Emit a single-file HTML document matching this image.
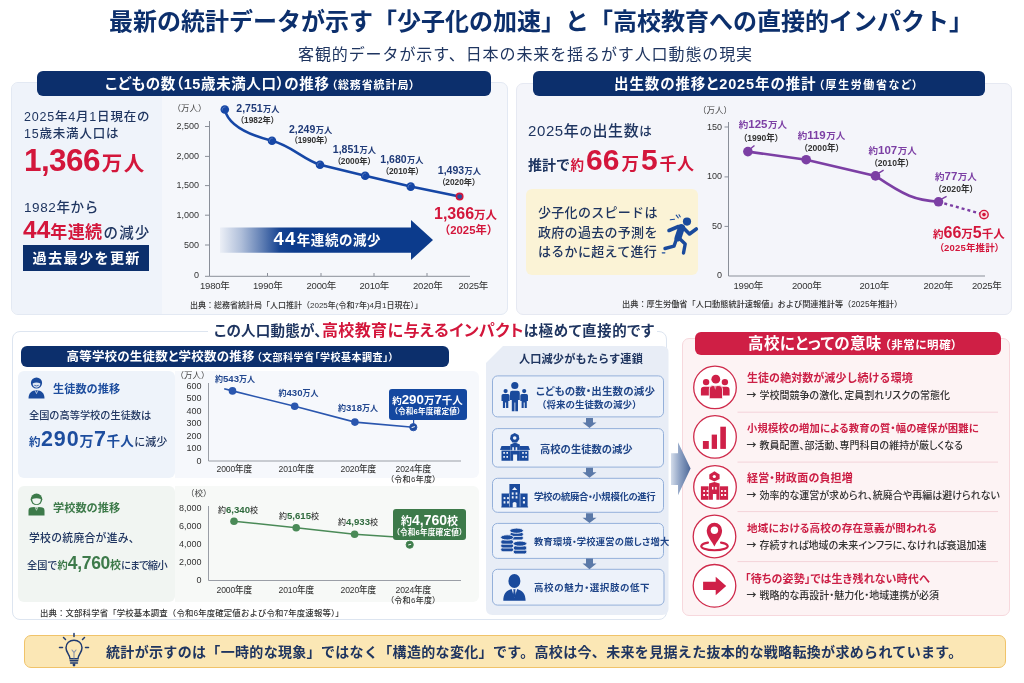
<!DOCTYPE html>
<html lang="ja">
<head>
<meta charset="utf-8">
<style>
*{margin:0;padding:0;box-sizing:border-box;}
html,body{width:1024px;height:683px;overflow:hidden;background:#fff;}
body{position:relative;font-family:"Liberation Sans","Noto Sans CJK JP",sans-serif;color:#1f3560;}
.a{position:absolute;white-space:nowrap;line-height:1;}
.b{font-weight:700;}
.hdr{position:absolute;background:#0c2f6c;border-radius:6px;color:#fff;font-weight:700;text-align:center;}
.card{position:absolute;border-radius:7px;}
.red{color:#d3163b;}
.navy{color:#1f3560;}
.blue{color:#1a4a9c;}
svg{position:absolute;overflow:visible;}
</style>
</head>
<body>

<!-- ===== TITLE ===== -->
<div class="a b" id="title" style="left:109px;top:10px;font-size:24px;color:#0c2f6c;letter-spacing:0px;">最新の統計データが示す「少子化の加速」と「高校教育への直接的インパクト」</div>
<div class="a" id="sub" style="left:298px;top:46.5px;font-size:16px;color:#1f3560;letter-spacing:0.9px;">客観的データが示す、日本の未来を揺るがす人口動態の現実</div>

<!-- ===== CARD 1 ===== -->
<div class="card" style="left:11px;top:82px;width:497px;height:233px;background:#f5f7fb;border:1px solid #e3e9f3;"></div>
<div class="card" style="left:12px;top:83px;width:150px;height:231px;background:#eff3fa;border-radius:6px 0 0 6px;"></div>
<div class="hdr" style="left:37px;top:71px;width:454px;height:25px;"></div>
<div class="a b" style="left:105px;top:77.2px;font-size:14.5px;color:#fff;font-feature-settings:'palt';letter-spacing:0.6px;">こどもの数（15歳未満人口）の推移<span style="font-size:11px;letter-spacing:0.9px;margin-left:2px;">（総務省統計局）</span></div>

<!-- card1 left text -->
<div class="a" style="left:24px;top:109px;font-size:12.5px;color:#1f3560;line-height:17px;letter-spacing:0.8px;font-weight:500;">2025年4月1日現在の<br>15歳未満人口は</div>
<div class="a b red" style="left:24px;top:145px;font-size:31.5px;letter-spacing:-0.6px;">1,366<span style="font-size:20.5px;letter-spacing:1.5px;margin-left:2px;">万人</span></div>
<div class="a" style="left:24px;top:201px;font-size:13.5px;color:#1f3560;letter-spacing:0.6px;font-weight:500;">1982年から</div>
<div class="a b" style="left:23px;top:218px;font-size:17px;color:#1f3560;"><span class="red"><span style="font-size:24.5px;">44</span><span style="letter-spacing:0.4px;">年連続</span></span><span style="font-size:14.5px;font-weight:500;letter-spacing:1.2px;margin-left:1px;">の減少</span></div>
<div class="a b" style="left:23px;top:245px;width:126px;height:26px;background:#0c2f6c;color:#fff;font-size:14.2px;text-align:center;line-height:27px;letter-spacing:1.3px;padding-left:1.3px;">過去最少を更新</div>

<!-- card1 chart -->
<svg style="left:0;top:0;" width="1024" height="683">
  <defs>
    <linearGradient id="arrg" x1="220" x2="433" y1="0" y2="0" gradientUnits="userSpaceOnUse">
      <stop offset="0" stop-color="#0c3b8c" stop-opacity="0.04"/>
      <stop offset="0.1" stop-color="#0c3b8c" stop-opacity="0.3"/>
      <stop offset="0.2" stop-color="#0c3b8c" stop-opacity="0.65"/>
      <stop offset="0.28" stop-color="#0c3b8c" stop-opacity="0.95"/>
      <stop offset="0.35" stop-color="#0c3b8c" stop-opacity="1"/>
      <stop offset="1" stop-color="#0c3b8c" stop-opacity="1"/>
    </linearGradient>
  </defs>
  <g stroke="#8a8f99" stroke-width="1" fill="none">
    <path d="M209.5 121 V276.3 H470 M205 276.3 H209.5"/>
    <path d="M205 126.5 H209.5 M205 156.4 H209.5 M205 185.6 H209.5 M205 215.2 H209.5 M205 245 H209.5"/>
    <path d="M267.5 276 V273 M321 276 V273 M374 276 V273 M427 276 V273"/>
  </g>
  <path d="M220 227.5 H411 V220 L433 240 L411 260 V252.7 H220 Z" fill="url(#arrg)"/>
  <path d="M224.8 109.5 C228 124 245 134 271.9 140.8 C292 146 304 160 320 164.7 L365.2 175.7 L410.7 186.6 L459.5 196.6" stroke="#1647a6" stroke-width="2.6" fill="none" stroke-linecap="round"/>
  <g fill="#1647a6">
    <circle cx="224.8" cy="109.5" r="4.3"/>
    <circle cx="272" cy="140.7" r="4.3"/>
    <circle cx="320" cy="164.7" r="4.3"/>
    <circle cx="365.2" cy="175.7" r="4.3"/>
    <circle cx="410.7" cy="186.6" r="4.3"/>
  </g>
  <g fill="none" stroke="#7f9ad0" stroke-width="0.7" opacity="0.8">
    <path d="M222.3 110.5 A2.8 2.8 0 0 1 225.5 107"/>
    <path d="M269.5 141.7 A2.8 2.8 0 0 1 272.7 138.2"/>
    <path d="M317.5 165.7 A2.8 2.8 0 0 1 320.7 162.2"/>
    <path d="M362.7 176.7 A2.8 2.8 0 0 1 365.9 173.2"/>
    <path d="M408.2 187.6 A2.8 2.8 0 0 1 411.4 184.1"/>
  </g>
  <circle cx="459.6" cy="196.6" r="3.2" fill="#2a4f9e" stroke="#d3163b" stroke-width="1.6"/>
</svg>
<div class="a" style="left:172.5px;top:104px;font-size:8.5px;color:#444;">（万人）</div>
<div class="a" style="font-size:9px;color:#333;right:825px;top:121.5px;">2,500</div>
<div class="a" style="font-size:9px;color:#333;right:825px;top:151.5px;">2,000</div>
<div class="a" style="font-size:9px;color:#333;right:825px;top:180.5px;">1,500</div>
<div class="a" style="font-size:9px;color:#333;right:825px;top:210.5px;">1,000</div>
<div class="a" style="font-size:9px;color:#333;right:825px;top:240.5px;">500</div>
<div class="a" style="font-size:9px;color:#333;right:825px;top:271px;">0</div>
<div class="a" style="font-size:9.5px;color:#333;left:200px;top:280.5px;letter-spacing:-0.2px;">1980年</div>
<div class="a" style="font-size:9.5px;color:#333;left:253px;top:280.5px;letter-spacing:-0.2px;">1990年</div>
<div class="a" style="font-size:9.5px;color:#333;left:306.5px;top:280.5px;letter-spacing:-0.2px;">2000年</div>
<div class="a" style="font-size:9.5px;color:#333;left:359.5px;top:280.5px;letter-spacing:-0.2px;">2010年</div>
<div class="a" style="font-size:9.5px;color:#333;left:413px;top:280.5px;letter-spacing:-0.2px;">2020年</div>
<div class="a" style="font-size:9.5px;color:#333;left:458.5px;top:280.5px;letter-spacing:-0.2px;">2025年</div>
<div class="a" style="font-size:8px;color:#333;left:190px;top:302px;font-weight:500;">出典：総務省統計局「人口推計（2025年(令和7年)4月1日現在）」</div>
<div class="a b" style="left:273.5px;top:230px;font-size:13.5px;color:#fff;font-feature-settings:'palt';letter-spacing:0.6px;"><span style="font-size:18.5px;letter-spacing:1.3px;">44</span>年連続の減少</div>

<div class="a b" style="left:236.3px;top:103.4px;font-size:10.5px;color:#1f3a78;">2,751<span style="font-size:8.2px;margin-left:0.5px;">万人</span></div>
<div class="a b" style="left:239.9px;top:115.6px;font-size:8.3px;color:#333;font-feature-settings:'palt';">（1982年）</div>
<div class="a b" style="left:289.0px;top:123.9px;font-size:10.5px;color:#1f3a78;">2,249<span style="font-size:8.2px;margin-left:0.5px;">万人</span></div>
<div class="a b" style="left:293.5px;top:136.3px;font-size:8.3px;color:#333;font-feature-settings:'palt';">（1990年）</div>
<div class="a b" style="left:332.8px;top:143.8px;font-size:10.5px;color:#1f3a78;">1,851<span style="font-size:8.2px;margin-left:0.5px;">万人</span></div>
<div class="a b" style="left:336.7px;top:156.5px;font-size:8.3px;color:#333;font-feature-settings:'palt';">（2000年）</div>
<div class="a b" style="left:380.3px;top:153.8px;font-size:10.5px;color:#1f3a78;">1,680<span style="font-size:8.2px;margin-left:0.5px;">万人</span></div>
<div class="a b" style="left:384.8px;top:166.5px;font-size:8.3px;color:#333;font-feature-settings:'palt';">（2010年）</div>
<div class="a b" style="left:437.8px;top:165.4px;font-size:10.5px;color:#1f3a78;">1,493<span style="font-size:8.2px;margin-left:0.5px;">万人</span></div>
<div class="a b" style="left:441.2px;top:177.8px;font-size:8.3px;color:#333;font-feature-settings:'palt';">（2020年）</div>
<div class="a b red" style="left:434px;top:206px;font-size:16px;">1,366<span style="font-size:11.5px;">万人</span></div>
<div class="a b red" style="left:439px;top:224.5px;font-size:11.3px;">（2025年）</div>

<!-- ===== CARD 2 ===== -->
<div class="card" style="left:516px;top:83px;width:496px;height:232px;background:#f4f5fa;border:1px solid #e6e9f2;"></div>
<div class="hdr" style="left:533px;top:71px;width:452px;height:25px;"></div>
<div class="a b" style="left:614px;top:77.2px;font-size:14.5px;color:#fff;font-feature-settings:'palt';letter-spacing:0.9px;">出生数の推移と2025年の推計<span style="font-size:11px;letter-spacing:1.6px;margin-left:2px;">（厚生労働省など）</span></div>

<!-- card2 left -->
<div class="a" style="left:528px;top:123px;font-size:15px;color:#1f3560;letter-spacing:0.6px;font-weight:500;">2025年<span style="font-size:12.5px;">の</span>出生数<span style="font-size:12.5px;">は</span></div>
<div class="a b" style="left:528px;top:145px;font-size:14px;color:#1f3560;">推計で<span class="red" style="font-size:13.5px;margin-left:0.5px;">約</span><span class="red" style="font-size:30px;margin-left:2px;">66</span><span class="red" style="font-size:17.5px;margin-left:2px;">万</span><span class="red" style="font-size:30px;margin-left:2px;">5</span><span class="red" style="font-size:17px;margin-left:2px;letter-spacing:0.5px;">千人</span></div>
<div class="card" style="left:526px;top:189px;width:172px;height:86px;background:#fbf3d6;border-radius:6px;"></div>
<div class="a" style="left:538px;top:203px;font-size:13px;color:#1f3560;line-height:19.5px;letter-spacing:0.3px;font-weight:500;">少子化のスピードは<br>政府の過去の予測を<br>はるかに超えて進行</div>
<svg style="left:658px;top:208px;" width="44" height="50" viewBox="0 0 44 50">
  <circle cx="29" cy="13.6" r="4.1" fill="#1a4a9c"/>
  <g stroke="#1a4a9c" fill="none" stroke-linecap="round" stroke-linejoin="round">
    <path d="M23.5 19.5 L20 30" stroke-width="7"/>
    <path d="M20.5 18.5 L11 22.5" stroke-width="3.6"/>
    <path d="M25 19.5 L31.5 26 L38.3 21" stroke-width="3.6"/>
    <path d="M18.5 31 L16 38.2 L7 40.5" stroke-width="3.4"/>
    <path d="M21.5 30.5 L27.2 36 L25.5 45" stroke-width="3.4"/>
    <path d="M18.2 7.2 L20.3 9.8 M21 6.8 L22.2 8.8 M12.3 11.8 L16.5 11.2" stroke-width="1.1"/>
    <path d="M4.3 44.8 H6.8" stroke-width="1.3"/>
  </g>
</svg>

<!-- card2 chart -->
<svg style="left:0;top:0;" width="1024" height="683">
  <g stroke="#8a8f99" stroke-width="1" fill="none">
    <path d="M728.5 122 V276 H985"/>
    <path d="M724.5 127 H728.5 M724.5 176.9 H728.5 M724.5 226.4 H728.5"/>
  </g>
  <path d="M747.9 151.6 L806.2 159.7 L875.5 175.9 C905 196 915 200 938.5 201.8" stroke="#7c3fa4" stroke-width="2.6" fill="none" stroke-linecap="round"/>
  <path d="M938.5 201.8 L984 214.6" stroke="#7c3fa4" stroke-width="2.4" fill="none" stroke-dasharray="3 3"/>
  <g fill="#7c3fa4">
    <circle cx="747.9" cy="151.6" r="4.8"/>
    <circle cx="806.2" cy="159.7" r="4.8"/>
    <circle cx="875.5" cy="175.9" r="4.8"/>
    <circle cx="938.5" cy="201.8" r="4.8"/>
  </g>
  <path d="M749.5 149.5 L754.5 145.5 M877.5 173.8 L883.6 170.1 M940 199.8 L946.6 196.4" stroke="#7c3fa4" stroke-width="1.5" fill="none"/>
  <circle cx="984" cy="214.6" r="4.2" fill="#f9dde2" stroke="#d3163b" stroke-width="1.4"/>
  <circle cx="984" cy="214.6" r="1.8" fill="#d3163b"/>
</svg>
<div class="a" style="left:698px;top:106px;font-size:8.5px;color:#444;">（万人）</div>
<div class="a" style="font-size:9px;color:#333;right:302px;top:122.5px;">150</div>
<div class="a" style="font-size:9px;color:#333;right:302px;top:172.3px;">100</div>
<div class="a" style="font-size:9px;color:#333;right:302px;top:221.8px;">50</div>
<div class="a" style="font-size:9px;color:#333;right:302px;top:271.3px;">0</div>
<div class="a" style="font-size:9.5px;color:#333;left:733.5px;top:281px;letter-spacing:-0.2px;">1990年</div>
<div class="a" style="font-size:9.5px;color:#333;left:792px;top:281px;letter-spacing:-0.2px;">2000年</div>
<div class="a" style="font-size:9.5px;color:#333;left:859.5px;top:281px;letter-spacing:-0.2px;">2010年</div>
<div class="a" style="font-size:9.5px;color:#333;left:923.5px;top:281px;letter-spacing:-0.2px;">2020年</div>
<div class="a" style="font-size:9.5px;color:#333;left:972px;top:281px;letter-spacing:-0.2px;">2025年</div>
<div class="a" style="font-size:8.2px;color:#333;left:622px;top:301px;font-weight:500;">出典：厚生労働省「人口動態統計速報値」および関連推計等（2025年推計）</div>
<div class="a b" style="left:738.8px;top:119.1px;font-size:11.5px;color:#7c3fa4;"><span style="font-size:9.5px;">約</span>125<span style="font-size:9.5px;margin-left:0.5px;">万人</span></div>
<div class="a" style="left:742.9px;top:134.3px;font-size:8.6px;color:#333;font-feature-settings:'palt';font-weight:700;">（1990年）</div>
<div class="a b" style="left:797.7px;top:129.8px;font-size:11.5px;color:#7c3fa4;"><span style="font-size:9.5px;">約</span>119<span style="font-size:9.5px;margin-left:0.5px;">万人</span></div>
<div class="a" style="left:803.5px;top:143.7px;font-size:8.6px;color:#333;font-feature-settings:'palt';font-weight:700;">（2000年）</div>
<div class="a b" style="left:868.5px;top:145.0px;font-size:11.5px;color:#7c3fa4;"><span style="font-size:9.5px;">約</span>107<span style="font-size:9.5px;margin-left:0.5px;">万人</span></div>
<div class="a" style="left:873.5px;top:158.5px;font-size:8.6px;color:#333;font-feature-settings:'palt';font-weight:700;">（2010年）</div>
<div class="a b" style="left:935.0px;top:171.2px;font-size:11.5px;color:#7c3fa4;"><span style="font-size:9.5px;">約</span>77<span style="font-size:9.5px;margin-left:0.5px;">万人</span></div>
<div class="a" style="left:937.5px;top:184.8px;font-size:8.6px;color:#333;font-feature-settings:'palt';font-weight:700;">（2020年）</div>
<div class="a b red" style="left:933px;top:224.5px;font-size:16px;"><span style="font-size:10.5px;">約</span>66<span style="font-size:11.5px;">万</span>5<span style="font-size:11.5px;">千人</span></div>
<div class="a b red" style="left:939px;top:242.5px;font-size:9.5px;font-feature-settings:'palt';letter-spacing:0.2px;">（2025年推計）</div>

<!-- ===== LOWER LEFT CARD ===== -->
<div class="card" style="left:12px;top:331px;width:655px;height:289px;background:#fff;border:1px solid #dde5f0;border-radius:8px;"></div>
<div class="a b" style="left:208px;top:322.5px;font-size:14.5px;color:#1f3560;background:#fff;padding:0 2px 0 6px;font-feature-settings:'palt';letter-spacing:0.25px;">この人口動態が、<span class="red" style="font-size:16px;letter-spacing:0.4px;">高校教育に与えるインパクト</span><span style="letter-spacing:0.6px;">は極めて直接的です</span></div>
<div class="hdr" style="left:21px;top:346px;width:428px;height:21px;"></div>
<div class="a b" style="left:66.5px;top:351px;font-size:12.5px;color:#fff;font-feature-settings:'palt';letter-spacing:0.2px;">高等学校の生徒数と学校数の推移<span style="font-size:10px;letter-spacing:0.5px;margin-left:2px;">（文部科学省「学校基本調査」）</span></div>

<div class="card" style="left:18px;top:371px;width:157px;height:107px;background:#eef3fa;border-radius:6px;"></div>
<div class="card" style="left:175px;top:371px;width:304px;height:107px;background:#f6f8fc;border-radius:0 6px 6px 0;"></div>
<div class="card" style="left:18px;top:486px;width:157px;height:116px;background:#f1f5f2;border-radius:6px;"></div>
<div class="card" style="left:175px;top:486px;width:304px;height:116px;background:#f7f9f7;border-radius:0 6px 6px 0;"></div>

<!-- student panel -->
<svg style="left:28px;top:376.5px;" width="17" height="22" viewBox="0 0 17 22">
  <circle cx="8.5" cy="6" r="5.6" fill="#1a4a9c"/>
  <path d="M4.6 6.6 Q8.5 4.2 12.4 6.6 Q12.1 10.4 8.5 10.7 Q4.9 10.4 4.6 6.6 Z" fill="#dfe7f4"/>
  <path d="M6.3 8.3 Q8.5 9.6 10.7 8.3" stroke="#1a4a9c" stroke-width="0.8" fill="none"/>
  <path d="M0.5 21.6 C0.5 16.3 3.5 13.3 8.5 13.3 C13.5 13.3 16.5 16.3 16.5 21.6 Z" fill="#1a4a9c"/>
  <path d="M7.2 13.5 L8.5 16.6 L9.8 13.5" stroke="#dfe7f4" stroke-width="0.7" fill="none"/>
</svg>
<div class="a b blue" style="left:53px;top:384px;font-size:11.2px;letter-spacing:0px;color:#1d4d9e;">生徒数の推移</div>
<div class="a" style="left:29px;top:411px;font-size:10.2px;color:#1f3560;font-weight:500;">全国の高等学校の生徒数は</div>
<div class="a b" style="left:29px;top:429px;font-size:11.5px;color:#1d4d9e;">約<span style="font-size:21.5px;letter-spacing:0.9px;margin-left:0.5px;">290</span><span style="font-size:14px;">万</span><span style="font-size:21.5px;margin-left:0.5px;letter-spacing:0.5px;">7</span><span style="font-size:13.5px;letter-spacing:0.3px;">千人</span><span style="font-size:11px;color:#1f3560;font-weight:500;">に減少</span></div>

<!-- school panel -->
<svg style="left:27.5px;top:493px;" width="17" height="23" viewBox="0 0 17 23">
  <circle cx="8.5" cy="6.3" r="5.8" fill="#3d7a4a"/>
  <path d="M4.2 6 Q8.5 4.6 12.8 6 Q12.8 11 8.5 11.3 Q4.2 11 4.2 6 Z" fill="#f1f5f2"/>
  <path d="M0.5 22.4 V17.5 Q0.5 14.5 4 14.3 L6.5 14 Q8.5 15.5 10.5 14 L13 14.3 Q16.5 14.5 16.5 17.5 V22.4 Z" fill="#3d7a4a"/>
  <path d="M7.2 14.2 L8.5 17.3 L9.8 14.2" stroke="#e4ede6" stroke-width="0.7" fill="none"/>
</svg>
<div class="a b" style="left:53px;top:503px;font-size:11.2px;color:#3d7a4a;">学校数の推移</div>
<div class="a" style="left:29px;top:532.5px;font-size:10.8px;color:#1f3560;font-weight:500;letter-spacing:0.3px;">学校の統廃合が進み、</div>
<div class="a" style="left:27px;top:554.5px;font-size:10.2px;color:#1f3560;font-weight:500;">全国で<span class="b" style="color:#3d7a4a;">約</span><span class="b" style="font-size:17.5px;color:#3d7a4a;letter-spacing:-0.3px;">4,760</span><span class="b" style="font-size:11px;color:#3d7a4a;">校</span><span style="font-feature-settings:'palt';letter-spacing:-0.6px;">にまで縮小</span></div>

<!-- student chart -->
<svg style="left:0;top:0;" width="1024" height="683">
  <g stroke="#9a9ea6" stroke-width="1" fill="none">
    <path d="M208.5 383 V461 H461"/>
    <path d="M208.5 580.5 H461 M208.5 506 V580.5"/>
  </g>
  <path d="M224.2 388.8 L232.5 390.9 L294.7 406.3 L354.9 422.1 L413.3 427.2" stroke="#2a56ae" stroke-width="1.6" fill="none"/>
  <g fill="#2a56ae">
    <circle cx="232.5" cy="390.9" r="3.8"/><circle cx="294.7" cy="406.3" r="3.8"/><circle cx="354.9" cy="422.1" r="3.8"/>
  </g>
  <path d="M413.6 419.5 V424" stroke="#2a56ae" stroke-width="1.2"/>
  <circle cx="413.3" cy="427.2" r="3.6" fill="#1f4c9f" stroke="#2a56ae" stroke-width="1"/>
  <path d="M411.6 427.6 L414.8 426.6" stroke="#fff" stroke-width="1"/>
  <path d="M234 521.2 L296.2 527.7 L354.6 534.3 L396 537" stroke="#4a8a57" stroke-width="1.6" fill="none"/>
  <g fill="#4a8a57">
    <circle cx="234" cy="521.2" r="3.8"/><circle cx="296.2" cy="527.7" r="3.8"/><circle cx="354.6" cy="534.3" r="3.8"/>
  </g>
  <circle cx="409.7" cy="544.7" r="3.6" fill="#3d7a4a" stroke="#4a8a57" stroke-width="1"/>
  <path d="M408.2 545 L411.2 544.2" stroke="#fff" stroke-width="1"/>
</svg>
<div class="a" style="left:175.5px;top:371px;font-size:8.5px;color:#444;">（万人）</div>
<div class="a" style="font-size:9px;color:#333;right:822.5px;top:381.8px;">600</div>
<div class="a" style="font-size:9px;color:#333;right:822.5px;top:394.3px;">500</div>
<div class="a" style="font-size:9px;color:#333;right:822.5px;top:406.8px;">400</div>
<div class="a" style="font-size:9px;color:#333;right:822.5px;top:419.3px;">300</div>
<div class="a" style="font-size:9px;color:#333;right:822.5px;top:431.8px;">200</div>
<div class="a" style="font-size:9px;color:#333;right:822.5px;top:444.3px;">100</div>
<div class="a" style="font-size:9px;color:#333;right:822.5px;top:456.8px;">0</div>
<div class="a" style="font-size:8.6px;color:#333;left:216.5px;top:464.5px;font-weight:500;letter-spacing:-0.15px;">2000年度</div>
<div class="a" style="font-size:8.6px;color:#333;left:278.5px;top:464.5px;font-weight:500;letter-spacing:-0.15px;">2010年度</div>
<div class="a" style="font-size:8.6px;color:#333;left:340.5px;top:464.5px;font-weight:500;letter-spacing:-0.15px;">2020年度</div>
<div class="a" style="font-size:8.6px;color:#333;left:395.5px;top:464.5px;font-weight:500;letter-spacing:-0.15px;">2024年度</div>
<div class="a" style="font-size:8px;color:#333;left:390px;top:475.5px;font-weight:500;font-feature-settings:'palt';letter-spacing:0.3px;">（令和6年度）</div>
<div class="a b" style="left:215px;top:374px;font-size:9.6px;color:#22478f;"><span style="font-size:8px;">約</span>543<span style="font-size:8px;">万人</span></div>
<div class="a b" style="left:278.5px;top:388px;font-size:9.6px;color:#22478f;"><span style="font-size:8px;">約</span>430<span style="font-size:8px;">万人</span></div>
<div class="a b" style="left:338px;top:403px;font-size:9.6px;color:#22478f;"><span style="font-size:8px;">約</span>318<span style="font-size:8px;">万人</span></div>
<div class="a b" style="left:388.5px;top:388.5px;width:78px;height:31px;background:#1448a0;border-radius:3px;color:#fff;text-align:center;"><div style="font-size:13.3px;margin-top:4px;"><span style="font-size:9.5px;">約</span>290<span style="font-size:10.5px;">万</span>7<span style="font-size:10.5px;">千人</span></div><div style="font-size:7.6px;margin-top:2px;font-feature-settings:'palt';letter-spacing:0.2px;">（令和6年度確定値）</div></div>

<!-- school chart labels -->
<div class="a" style="left:186px;top:489px;font-size:8.5px;color:#444;">（校）</div>
<div class="a" style="font-size:9px;color:#333;right:822.5px;top:503.8px;">8,000</div>
<div class="a" style="font-size:9px;color:#333;right:822.5px;top:522.3px;">6,000</div>
<div class="a" style="font-size:9px;color:#333;right:822.5px;top:540.3px;">4,000</div>
<div class="a" style="font-size:9px;color:#333;right:822.5px;top:558.3px;">2,000</div>
<div class="a" style="font-size:9px;color:#333;right:822.5px;top:575.8px;">0</div>
<div class="a" style="font-size:8.6px;color:#333;left:216.5px;top:585.5px;font-weight:500;letter-spacing:-0.15px;">2000年度</div>
<div class="a" style="font-size:8.6px;color:#333;left:278.5px;top:585.5px;font-weight:500;letter-spacing:-0.15px;">2010年度</div>
<div class="a" style="font-size:8.6px;color:#333;left:340.5px;top:585.5px;font-weight:500;letter-spacing:-0.15px;">2020年度</div>
<div class="a" style="font-size:8.6px;color:#333;left:395.5px;top:585.5px;font-weight:500;letter-spacing:-0.15px;">2024年度</div>
<div class="a" style="font-size:8px;color:#333;left:390px;top:597.0px;font-weight:500;font-feature-settings:'palt';letter-spacing:0.3px;">（令和6年度）</div>
<div class="a b" style="left:218px;top:505px;font-size:9.6px;color:#2f6a3d;"><span style="font-size:8px;color:#3d3d3d;font-weight:500;">約</span>6,340<span style="font-size:8px;color:#3d3d3d;font-weight:500;">校</span></div>
<div class="a b" style="left:279px;top:511px;font-size:9.6px;color:#2f6a3d;"><span style="font-size:8px;color:#3d3d3d;font-weight:500;">約</span>5,615<span style="font-size:8px;color:#3d3d3d;font-weight:500;">校</span></div>
<div class="a b" style="left:338px;top:517px;font-size:9.6px;color:#2f6a3d;"><span style="font-size:8px;color:#3d3d3d;font-weight:500;">約</span>4,933<span style="font-size:8px;color:#3d3d3d;font-weight:500;">校</span></div>
<div class="a b" style="left:393px;top:509px;width:73px;height:30.5px;background:#3d7a4a;border-radius:3px;color:#fff;text-align:center;"><div style="font-size:14px;margin-top:4px;"><span style="font-size:11px;">約</span>4,760<span style="font-size:11px;">校</span></div><div style="font-size:7.6px;margin-top:2px;font-feature-settings:'palt';letter-spacing:0.2px;">（令和6年度確定値）</div></div>
<div class="a" style="font-size:8.4px;color:#333;left:40px;top:609px;font-weight:500;letter-spacing:0.15px;">出典：文部科学省「学校基本調査（令和6年度確定値および令和7年度速報等）」</div>

<!-- ===== CHAIN ===== -->
<svg style="left:486px;top:346px;" width="184" height="270"><path d="M17 0 H176 Q182.5 0 182.5 6.5 V262.5 Q182.5 269 176 269 H6.5 Q0 269 0 262.5 V17 Z" fill="#e8edf6"/></svg>
<div class="a" style="left:519px;top:353.5px;font-size:11.2px;color:#1f3560;font-weight:700;letter-spacing:0.1px;">人口減少がもたらす連鎖</div>
<svg style="left:0;top:0;" width="1024" height="683">
  <g fill="#edf2fa" stroke="#94b0da" stroke-width="1">
    <rect x="492.5" y="375.9" width="171" height="41" rx="5"/>
    <rect x="492.5" y="428.6" width="171" height="38.5" rx="5"/>
    <rect x="492.5" y="478.3" width="171" height="34" rx="5"/>
    <rect x="492.5" y="523.4" width="171" height="35" rx="5"/>
    <rect x="492.5" y="569.3" width="171.5" height="35.8" rx="5"/>
  </g>
  <g fill="#5b79a8">
    <path d="M586 418 H593 V422.5 H596.5 L589.5 428 L582.5 422.5 H586 Z"/>
    <path d="M586 467.8 H593 V472.3 H596.5 L589.5 477.8 L582.5 472.3 H586 Z"/>
    <path d="M586 513.2 H593 V517.7 H596.5 L589.5 523.1 L582.5 517.7 H586 Z"/>
    <path d="M586 558.4 H593 V563.4 H596.5 L589.5 569.2 L582.5 563.4 H586 Z"/>
  </g>
  <!-- family icon -->
  <g fill="#1a4a9c" transform="translate(501,381.5)">
    <circle cx="13.8" cy="4" r="3.6"/>
    <path d="M9 11.4 Q9 9.2 11.2 9.2 H16.6 Q18.8 9.2 18.8 11.4 V18.6 H17 V29.8 H14.3 V21 H13.5 V29.8 H10.8 V18.6 H9 Z"/>
    <circle cx="4.6" cy="9.6" r="2.1"/>
    <path d="M0.5 14.2 Q0.5 12.5 2.1 12.5 H7 Q8.6 12.5 8.6 14.2 V19.5 H7.3 V26.6 H5.1 V21 H4.1 V26.6 H1.9 V19.5 H0.5 Z"/>
    <circle cx="23.2" cy="9.6" r="2.1"/>
    <path d="M19.3 14.2 Q19.3 12.5 20.9 12.5 H25.4 Q27 12.5 27 14.2 V19.5 H25.8 V26.6 H23.7 V21 H22.7 V26.6 H20.6 V19.5 H19.3 Z"/>
  </g>
  <!-- school icon -->
  <g transform="translate(500,433)">
    <g fill="#1a4a9c">
      <path d="M14.7 0 L18.6 2 L19.4 6 L17 9.5 H12.4 L10 6 L10.8 2 Z"/>
      <path d="M10.3 11.5 L15 9.5 L19.9 11.5 V27.8 H17.1 V21.6 H13.1 V27.8 H10.3 Z"/>
      <path d="M1.5 12.9 H10.3 V27.8 H1.5 V17 H0 Z"/>
      <path d="M19.9 12.9 H28.5 L30 17 H28.5 V27.8 H19.9 Z"/>
    </g>
    <g fill="#edf2fa">
      <circle cx="14.7" cy="5" r="1.8"/>
      <rect x="12.3" y="14.2" width="1.6" height="3.3"/><rect x="15.6" y="14.2" width="1.6" height="3.3"/>
      <rect x="3.3" y="19" width="1.6" height="1.8"/><rect x="6.4" y="19" width="1.6" height="1.8"/>
      <rect x="3.3" y="23" width="1.6" height="1.8"/><rect x="6.4" y="23" width="1.6" height="1.8"/>
      <rect x="22.2" y="19" width="1.6" height="1.8"/><rect x="25.3" y="19" width="1.6" height="1.8"/>
      <rect x="22.2" y="23" width="1.6" height="1.8"/><rect x="25.3" y="23" width="1.6" height="1.8"/>
      <rect x="0" y="16.9" width="30" height="1" opacity="0.6"/>
    </g>
  </g>
  <!-- building icon -->
  <g transform="translate(501,484)">
    <path fill="#1a4a9c" d="M8.4 0 H19 V9.6 H26.6 V22.5 H27.1 V23.6 H0.3 V22.5 H0.6 V9.6 H8.4 Z"/>
    <g fill="#edf2fa">
      <path d="M11.7 23.6 V19 Q13.6 17 15.5 19 V23.6 Z"/>
      <rect x="10.8" y="8.4" width="1.8" height="2.3"/><rect x="14.6" y="8.4" width="1.8" height="2.3"/>
      <rect x="10.8" y="12.2" width="1.8" height="2.3"/><rect x="14.6" y="12.2" width="1.8" height="2.3"/>
      <path d="M11 6 L13.6 3 L16.2 6 Z"/>
      <rect x="2.6" y="13.1" width="1.8" height="2"/><rect x="6.1" y="13.1" width="1.8" height="2"/>
      <rect x="2.6" y="17.2" width="1.8" height="2.3"/><rect x="6.1" y="17.2" width="1.8" height="2.3"/>
      <rect x="21.9" y="13.1" width="2.1" height="2"/><rect x="21.9" y="17.2" width="2.1" height="2.3"/>
      <rect x="8.1" y="9.6" width="0.5" height="13" /><rect x="18.8" y="9.6" width="0.5" height="13"/>
    </g>
  </g>
  <!-- coins icon -->
  <g transform="translate(500,527)" fill="#1a4a9c" stroke="#edf2fa" stroke-width="0.9">
    <rect x="9.9" y="8.8" width="13.5" height="4.2" rx="2.1"/>
    <rect x="9.9" y="5.2" width="13.5" height="4.2" rx="2.1"/>
    <ellipse cx="16.6" cy="3.7" rx="6.8" ry="2.6"/>
    <rect x="0.7" y="20.4" width="12.9" height="4.4" rx="2.2"/>
    <rect x="0.7" y="16.6" width="12.9" height="4.4" rx="2.2"/>
    <rect x="0.7" y="12.8" width="12.9" height="4.4" rx="2.2"/>
    <ellipse cx="7.15" cy="10.4" rx="6.5" ry="2.6"/>
    <rect x="13.2" y="22.6" width="13.7" height="4.4" rx="2.2"/>
    <rect x="13.2" y="18.8" width="13.7" height="4.4" rx="2.2"/>
    <ellipse cx="20" cy="16.6" rx="6.9" ry="2.6"/>
  </g>
  <!-- person icon -->
  <g transform="translate(503,574)" fill="#1a4a9c">
    <ellipse cx="11.4" cy="7" rx="6" ry="6.9"/>
    <path d="M0.3 26.8 C0.3 19.5 3.5 16.5 8.6 15 L11.4 24 L14.2 15 C19.3 16.5 22.6 19.5 22.6 26.8 Z"/>
    <path d="M10.2 15.2 H12.6 L12.2 17 L13 22 L11.4 24 L9.8 22 L10.6 17 Z"/>
  </g>
</svg>
<div class="a b" style="left:536px;top:386px;font-size:10.5px;color:#1f4588;font-feature-settings:'palt';letter-spacing:0.15px;">こどもの数・出生数の減少</div>
<div class="a b" style="left:537px;top:400px;font-size:9.5px;color:#1f4588;">（将来の生徒数の減少）</div>
<div class="a b" style="left:540px;top:445px;font-size:10.3px;color:#1f4588;">高校の生徒数の減少</div>
<div class="a b" style="left:534px;top:492px;font-size:9.4px;color:#1f4588;font-feature-settings:'palt';letter-spacing:-0.35px;">学校の統廃合・小規模化の進行</div>
<div class="a b" style="left:534px;top:538px;font-size:9.3px;color:#1f4588;font-feature-settings:'palt';letter-spacing:0.2px;">教育環境・学校運営の厳しさ増大</div>
<div class="a b" style="left:534px;top:583px;font-size:9.5px;color:#1f4588;font-feature-settings:'palt';letter-spacing:0.6px;">高校の魅力・選択肢の低下</div>


<!-- ===== PINK PANEL ===== -->
<div class="card" style="left:682px;top:338px;width:328px;height:278px;background:#fdf3f4;border:1px solid #f7d8dd;"></div>
<div class="hdr" style="left:695px;top:332px;width:306px;height:23px;background:#cf1f45;"></div>
<div class="a b" style="left:748px;top:336.3px;font-size:15.5px;color:#fff;font-feature-settings:'palt';letter-spacing:0.4px;">高校にとっての意味<span style="font-size:11.5px;letter-spacing:0.6px;margin-left:3px;">（非常に明確）</span></div>
<svg style="left:0;top:0;" width="1024" height="683">
  <g stroke="#f4d3d9" stroke-width="1">
    <path d="M737.5 412.2 H998 M737.5 462.1 H998 M737.5 511.6 H998 M737.5 561.6 H998"/>
  </g>
  <g fill="#fff" stroke="#cf2a4b" stroke-width="1.3">
    <circle cx="715" cy="387.4" r="21.3"/>
    <circle cx="715" cy="436.9" r="21.3"/>
    <circle cx="715" cy="487" r="21.3"/>
    <circle cx="714.5" cy="536.5" r="21.3"/>
    <circle cx="714.5" cy="585.8" r="21.3"/>
  </g>
  <g fill="#cf2048">
    <!-- people -->
    <circle cx="715.8" cy="379.2" r="4.4"/>
    <circle cx="706.1" cy="382.1" r="3.2"/>
    <circle cx="724.9" cy="382.1" r="3.2"/>
    <path d="M700.9 395.5 V390 Q700.9 386.7 704 386.7 H709.5 V395.5 Z"/>
    <path d="M721.5 386.7 H726.5 Q729.6 386.7 729.6 390 V395.5 H721.5 Z"/>
    <path d="M709.3 398.7 V389 Q709.3 385.6 712.6 385.6 H719.2 Q722.5 385.6 722.5 389 V398.7 Z" stroke="#fff" stroke-width="0.8"/>
    <!-- bars -->
    <rect x="702.9" y="441" width="5.9" height="7.9"/>
    <rect x="711.7" y="434.6" width="5.3" height="14.3"/>
    <rect x="720.3" y="426.7" width="5.6" height="22.2"/>
    <!-- school -->
    <path d="M714.4 471.3 L719.6 474.5 L719.6 479 L714.4 481.4 L709.3 479 L709.3 474.5 Z"/>
    <path d="M709 483.5 L714.4 482 L719.6 483.5 V499.8 H716.4 V494 H712.9 V499.8 H709 Z"/>
    <path d="M700.9 486.3 H708.6 V499.8 H700.9 Z"/>
    <path d="M720 486.3 H728.1 V499.8 H720 Z"/>
    <!-- pin -->
    <path d="M714.4 546.4 C712.3 541.5 706.7 536.5 706.7 530.4 A7.7 7.7 0 0 1 722.1 530.4 C722.1 536.5 716.5 541.5 714.4 546.4 Z"/>
    <!-- arrow -->
    <path d="M703.1 581.8 H715.7 V576.8 L726.2 585.9 L715.7 595.2 V590 H703.1 Z"/>
  </g>
  <g fill="#fff">
    <circle cx="714.4" cy="530.3" r="3.7"/>
    <circle cx="714.3" cy="476.5" r="1.6"/>
    <rect x="712" y="486.9" width="1.4" height="2.6"/><rect x="715.2" y="486.9" width="1.4" height="2.6"/>
    <rect x="703.2" y="490.1" width="1.8" height="1.8"/><rect x="706.7" y="490.1" width="1.8" height="1.8"/>
    <rect x="703.2" y="494" width="1.8" height="2"/><rect x="706.7" y="494" width="1.8" height="2"/>
    <rect x="721" y="490.1" width="1.8" height="1.8"/><rect x="724.3" y="490.1" width="1.8" height="1.8"/>
    <rect x="721" y="494" width="1.8" height="2"/><rect x="724.3" y="494" width="1.8" height="2"/>
    <path d="M713.5 385 L715.3 390 L717 385 Z" opacity="0.5"/>
  </g>
  <path d="M708 542.6 A13.3 4.1 0 1 0 721 542.6" fill="none" stroke="#cf2048" stroke-width="2.1" stroke-linecap="round"/>
</svg>
<div class="a b" style="left:747px;top:373px;font-size:11px;color:#cc1f45;letter-spacing:0.05px;">生徒の絶対数が減少し続ける環境</div>
<div class="a" style="left:746.5px;top:389.5px;font-size:10px;color:#333;font-weight:500;font-feature-settings:'palt';"><span style="font-family:'Noto Sans CJK JP',sans-serif;font-weight:700;margin-right:3px;">→</span>学校間競争の激化、定員割れリスクの常態化</div>
<div class="a b" style="left:747px;top:423.5px;font-size:10.3px;color:#cc1f45;font-feature-settings:'palt';letter-spacing:0.15px;">小規模校の増加による教育の質・幅の確保が困難に</div>
<div class="a" style="left:746.5px;top:440px;font-size:10px;color:#333;font-weight:500;font-feature-settings:'palt';"><span style="font-family:'Noto Sans CJK JP',sans-serif;font-weight:700;margin-right:3px;">→</span>教員配置、部活動、専門科目の維持が厳しくなる</div>
<div class="a b" style="left:747px;top:472.5px;font-size:11px;color:#cc1f45;font-feature-settings:'palt';letter-spacing:0.15px;">経営・財政面の負担増</div>
<div class="a" style="left:746.5px;top:490px;font-size:10px;color:#333;font-weight:500;font-feature-settings:'palt';"><span style="font-family:'Noto Sans CJK JP',sans-serif;font-weight:700;margin-right:3px;">→</span>効率的な運営が求められ、統廃合や再編は避けられない</div>
<div class="a b" style="left:747px;top:522.5px;font-size:10.6px;color:#cc1f45;font-feature-settings:'palt';letter-spacing:0.15px;">地域における高校の存在意義が問われる</div>
<div class="a" style="left:746.5px;top:539.5px;font-size:10px;color:#333;font-weight:500;font-feature-settings:'palt';"><span style="font-family:'Noto Sans CJK JP',sans-serif;font-weight:700;margin-right:3px;">→</span>存続すれば地域の未来インフラに、なければ衰退加速</div>
<div class="a b" style="left:745px;top:573.5px;font-size:11px;color:#cc1f45;font-feature-settings:'palt';letter-spacing:0.15px;">「待ちの姿勢」では生き残れない時代へ</div>
<div class="a" style="left:746.5px;top:590px;font-size:10px;color:#333;font-weight:500;font-feature-settings:'palt';"><span style="font-family:'Noto Sans CJK JP',sans-serif;font-weight:700;margin-right:3px;">→</span>戦略的な再設計・魅力化・地域連携が必須</div>

<!-- big chevron -->
<svg style="left:671px;top:442px;" width="21" height="54">
  <defs><linearGradient id="chev" x1="0" x2="1"><stop offset="0" stop-color="#d3dcea"/><stop offset="0.45" stop-color="#8ea2c4"/><stop offset="1" stop-color="#4d6898"/></linearGradient></defs>
  <path d="M0 11.2 H7 V0.3 L19.6 26.6 L7 53.3 V43 H0 Z" fill="url(#chev)"/>
</svg>

<!-- ===== BOTTOM BANNER ===== -->
<div class="card" style="left:24px;top:635px;width:982px;height:33px;background:#fbe7b5;border:1.5px solid #f0c36a;border-radius:7px;"></div>
<svg style="left:58px;top:633px;" width="32" height="34" viewBox="0 0 32 34">
  <g stroke="#1f3a70" stroke-width="1.5" fill="none" stroke-linecap="round">
    <path d="M16 0.5 V3.5 M5.5 4.5 L7.5 6.5 M26.5 4.5 L24.5 6.5 M1.5 14.5 H4.5 M27.5 14.5 H30.5"/>
    <path d="M12 25.8 C12 21.8 8 19.8 8 14.8 C8 10.3 11.6 7.2 16 7.2 C20.4 7.2 24 10.3 24 14.8 C24 19.8 20 21.8 20 25.8 Z"/>
    <path d="M12.2 27.8 H19.8 M12.6 30 H19.4"/>
    <path d="M14 17 L16 19.5 L18 17 M16 19.5 V25" stroke-width="1.1" stroke="#8a93a8"/>
  </g>
  <circle cx="16" cy="32" r="1.4" fill="#1f3a70"/>
</svg>
<div class="a b" style="left:106px;top:645px;font-size:14px;color:#1f3560;letter-spacing:0.33px;">統計が示すのは「一時的な現象」ではなく「構造的な変化」です。高校は今、未来を見据えた抜本的な戦略転換が求められています。</div>

</body>
</html>
